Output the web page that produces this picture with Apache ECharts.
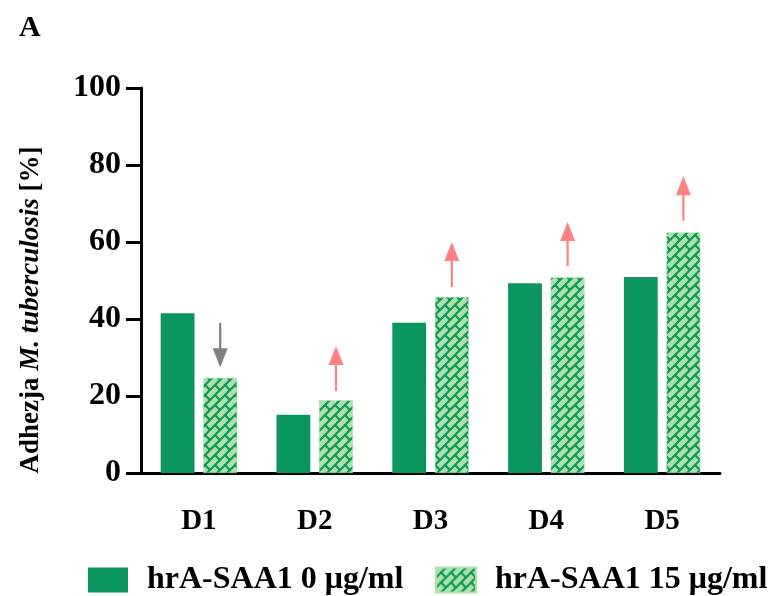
<!DOCTYPE html>
<html>
<head>
<meta charset="utf-8">
<style>html,body{margin:0;padding:0;background:#fff;}#c{width:768px;height:596px;}</style>
<script src="https://cdn.jsdelivr.net/npm/echarts@6/dist/echarts.min.js"></script>
</head>
<body>
<div id="c"></div>
<script>
const categories = ['D1', 'D2', 'D3', 'D4', 'D5'];
const seriesNames = ['hrA-SAA1 0 \u03bcg/ml', 'hrA-SAA1 15 \u03bcg/ml'];
const control = [41.5, 15.1, 39.0, 49.3, 50.9];
const treated = [24.7, 18.9, 45.7, 50.8, 62.5];
const arrowFrom = [39.0, 21.3, 48.3, 53.8, 65.5];
const arrowTo = [27.5, 33.0, 60.0, 65.2, 77.1];
const yTicks = [0, 20, 40, 60, 80, 100];
const panelLabel = 'A';

const SOLID = '#0a965e';
const LIGHT = '#ade0ab';
const DARK = '#119a5b';
const SERIF = '"Liberation Serif", "Times New Roman", serif';

function makePattern() {
  const T = 10;
  const c = document.createElement('canvas');
  c.width = T; c.height = T;
  const ctx = c.getContext('2d');
  ctx.fillStyle = LIGHT;
  ctx.fillRect(0, 0, T, T);
  const L = T * Math.SQRT2, H = L / 2;
  ctx.translate(T / 2, T / 2);
  ctx.rotate(-Math.PI / 4);
  ctx.strokeStyle = DARK;
  ctx.lineWidth = 1.9;
  for (let j = -4; j <= 4; j++) {
    for (let i = -4; i <= 4; i++) {
      const x = i * L + ((j & 1) ? L / 2 : 0);
      const y = j * H;
      ctx.strokeRect(x, y, L, H);
    }
  }
  return c;
}
const pattern = { image: makePattern(), repeat: 'repeat' };

const legendText = { fontFamily: SERIF, fontWeight: 'bold', fontSize: 32, color: '#000', padding: [0, 0, 0, 14] };
const GAP_CAT = 0.34, GAP_BAR = 0.26;
const chart = echarts.init(document.getElementById('c'), null, { renderer: 'canvas' });
chart.setOption({
  animation: false,
  title: {
    text: panelLabel, left: 14, top: 8,
    textStyle: { fontFamily: SERIF, fontWeight: 'bold', fontSize: 30, color: '#000' }
  },
  graphic: [{
    type: 'text', x: 31, y: 310, rotation: Math.PI / 2, silent: true,
    style: {
      text: '{a|Adhezja }{b|M. tuberculosis}{a| [%]}',
      align: 'center', verticalAlign: 'middle',
      rich: {
        a: { fontFamily: SERIF, fontWeight: 'bold', fontSize: 27, fill: '#000' },
        b: { fontFamily: SERIF, fontWeight: 'bold', fontStyle: 'italic', fontSize: 27, fill: '#000' }
      }
    }
  }],
  grid: { left: 141, right: 48, top: 88, bottom: 123, containLabel: false },
  legend: [
    { left: 83, top: 559, itemWidth: 40, itemHeight: 25, icon: 'rect', data: [seriesNames[0]], textStyle: legendText },
    { left: 430, top: 559, itemWidth: 40, itemHeight: 25, icon: 'rect', data: [seriesNames[1]], textStyle: legendText }
  ],
  xAxis: {
    type: 'category', data: categories,
    axisLine: { lineStyle: { color: '#000', width: 3 } },
    axisTick: { alignWithLabel: true, length: 12, lineStyle: { color: '#000', width: 3 } },
    axisLabel: { margin: 34, fontFamily: SERIF, fontWeight: 'bold', fontSize: 29, color: '#000' }
  },
  yAxis: {
    type: 'value', min: yTicks[0], max: yTicks[yTicks.length - 1], interval: 20,
    splitLine: { show: false },
    axisLine: { show: true, lineStyle: { color: '#000', width: 3 } },
    axisTick: { show: true, length: 15, lineStyle: { color: '#000', width: 3 } },
    axisLabel: { margin: 20, fontFamily: SERIF, fontWeight: 'bold', fontSize: 32, color: '#000' }
  },
  series: [
    {
      name: seriesNames[0], type: 'bar', data: control,
      barCategoryGap: (GAP_CAT * 100) + '%', barGap: (GAP_BAR * 100) + '%',
      itemStyle: { color: SOLID }
    },
    {
      name: seriesNames[1], type: 'bar', data: treated,
      barCategoryGap: (GAP_CAT * 100) + '%', barGap: (GAP_BAR * 100) + '%',
      itemStyle: { color: pattern, borderColor: LIGHT, borderWidth: 0.5 }
    },
    {
      type: 'custom', silent: true, z: 5,
      data: categories.map((c, i) => [i, arrowFrom[i], arrowTo[i]]),
      renderItem: function (params, api) {
        const i = api.value(0), v0 = api.value(1), v1 = api.value(2);
        const band = api.size([1, 0])[0];
        const bw = band * (1 - GAP_CAT) / (2 + GAP_BAR);
        const off = (bw + bw * GAP_BAR) / 2;
        const p0 = api.coord([i, v0]), p1 = api.coord([i, v1]);
        const x = p0[0] + off;
        const up = v1 > v0;
        const col = up ? '#fb8283' : '#7f7f7f';
        const dir = up ? -1 : 1;
        const headLen = 19, headW = 7.5;
        const baseY = p1[1] - dir * headLen;
        return {
          type: 'group',
          children: [
            { type: 'line', shape: { x1: x, y1: p0[1], x2: x, y2: baseY + dir * 2 }, style: { stroke: col, lineWidth: 2.2 } },
            { type: 'polygon', shape: { points: [[x, p1[1]], [x - headW, baseY], [x + headW, baseY]] }, style: { fill: col } }
          ]
        };
      }
    }
  ]
});
</script>
</body>
</html>
